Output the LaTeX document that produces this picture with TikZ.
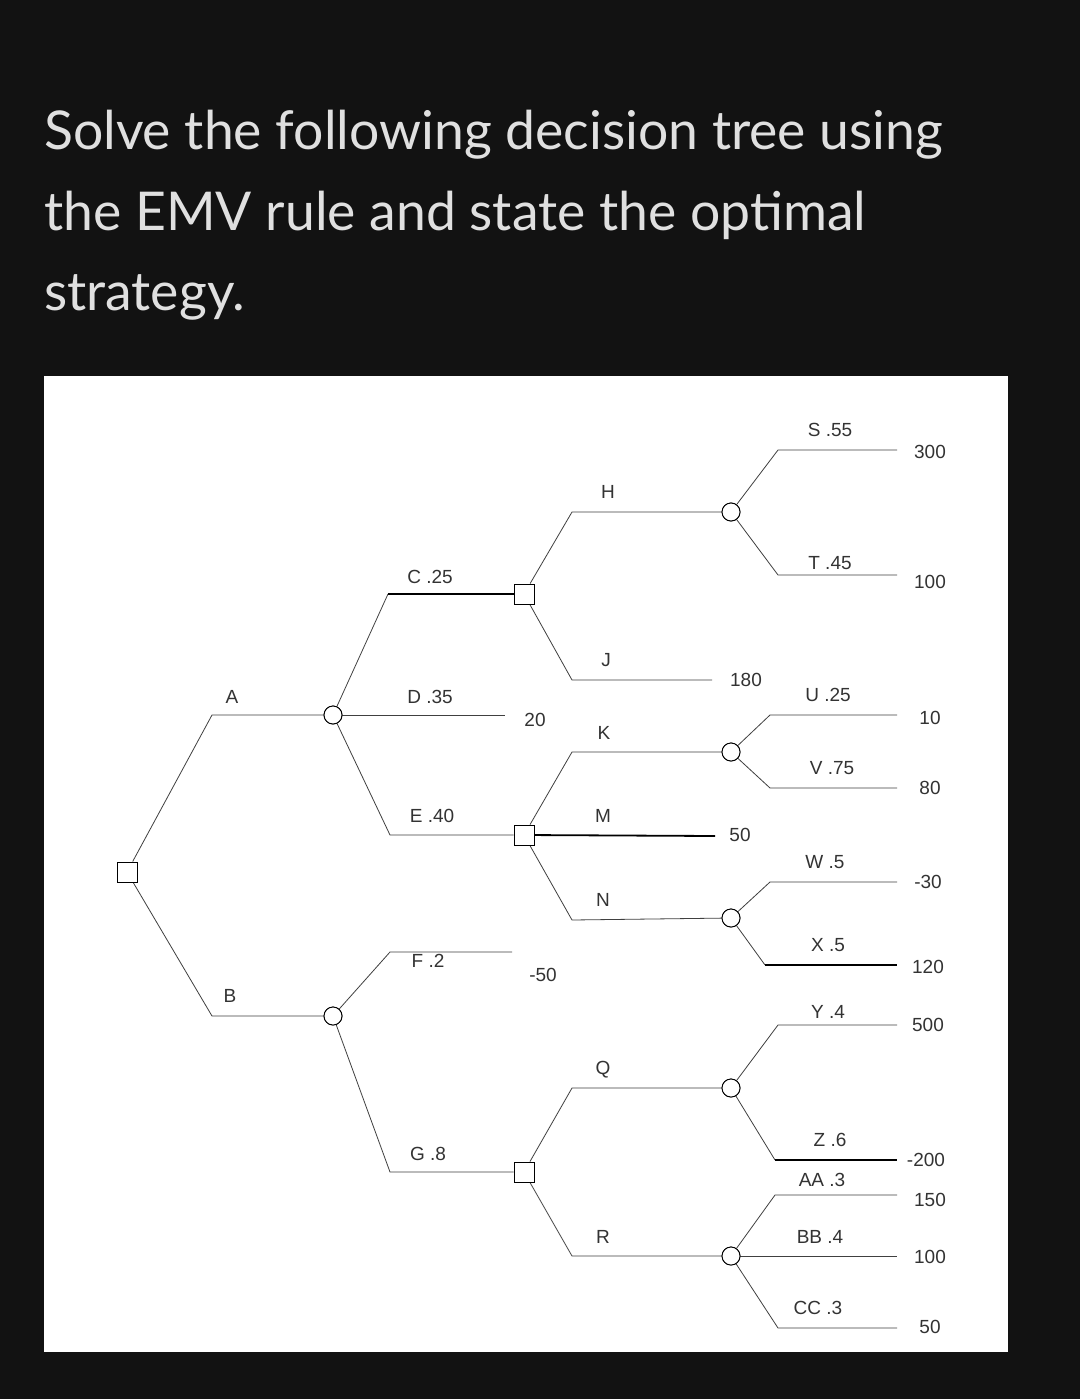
\documentclass[tikz,border=0pt]{standalone}
\usepackage{fontspec}
\setmainfont{Lato}
\newfontfamily\treefont{Liberation Sans}
\begin{document}
\begin{tikzpicture}[x=1pt,y=-1pt,
  dec/.style={draw,fill=white,minimum size=20pt,inner sep=0pt,line width=0.9pt},
  chn/.style={draw,fill=white,circle,minimum size=18pt,inner sep=0pt,line width=0.9pt},
  lbl/.style={font=\treefont\fontsize{19}{20}\selectfont,text=black!80},
  ttl/.style={anchor=base west,text=black!12,font=\fontsize{53.5}{58}\selectfont,inner sep=0pt},
  br/.style={line width=0.8pt,black!75},
  thk/.style={line width=1.8pt,black}]
\useasboundingbox (0,0) rectangle (1080,1399);
\fill[black!93] (0,0) rectangle (1080,1399);
\fill[white] (44,376) rectangle (1008,1352);
\node[ttl] (t1) at (44,150) {Solve the following decision tree using};
\node[ttl] (t2) at (44,230) {the EMV rule and state the optimal};
\node[ttl] (t3) at (44,310) {strategy.};
% nodes
\node[dec] (root) at (127,872) {};
\node[chn] (cA) at (333,715) {};
\node[chn] (cB) at (333,1016) {};
\node[dec] (dC) at (524,594) {};
\node[dec] (dE) at (524,835) {};
\node[dec] (dG) at (524,1172) {};
\node[chn] (cH) at (731,512) {};
\node[chn] (cK) at (731,752) {};
\node[chn] (cN) at (731,918) {};
\node[chn] (cQ) at (731,1088) {};
\node[chn] (cR) at (731,1256) {};
% coordinates
\foreach \n/\x/\y in {a1/212/715,b1/212/1016,c1/388/594,d1/505/715,e1/390/835,
  h1/572/512,j1/572/680,j2/712/680,k1/572/752,m1/715/836,n1/572/920,
  s1/778/450,s2/897/450,t1/778/575,t2/897/575,u1/770/715,u2/897/715,v1/770/788,v2/897/788,
  w1/770/882,w2/897/882,x1/765/965,x2/897/965,f1/390/952,f2/512/952,g1/390/1172,
  q1/572/1088,r1/572/1256,y1/778/1025,y2/897/1025,z1/775/1160,z2/897/1160,
  aa1/775/1195,aa2/897/1195,bb2/897/1256,cc1/778/1328,cc2/897/1328}
  {\coordinate (\n) at (\x,\y);}
\draw[br] (root) -- (a1) -- (cA);
\draw[br] (root) -- (b1) -- (cB);
\draw[br] (cA) -- (c1);
\draw[thk] (c1) -- (dC);
\draw[br] (cA) -- (d1);
\draw[br] (cA) -- (e1) -- (dE);
\draw[br] (dC) -- (h1) -- (cH);
\draw[br] (dC) -- (j1) -- (j2);
\draw[br] (dE) -- (k1) -- (cK);
\draw[thk] (dE) -- (m1);
\draw[br] (dE) -- (n1) -- (cN);
\draw[br] (cH) -- (s1) -- (s2);
\draw[br] (cH) -- (t1) -- (t2);
\draw[br] (cK) -- (u1) -- (u2);
\draw[br] (cK) -- (v1) -- (v2);
\draw[br] (cN) -- (w1) -- (w2);
\draw[br] (cN) -- (x1);
\draw[thk] (x1) -- (x2);
\draw[br] (cB) -- (f1) -- (f2);
\draw[br] (cB) -- (g1) -- (dG);
\draw[br] (dG) -- (q1) -- (cQ);
\draw[br] (dG) -- (r1) -- (cR);
\draw[br] (cQ) -- (y1) -- (y2);
\draw[br] (cQ) -- (z1);
\draw[thk] (z1) -- (z2);
\draw[br] (cR) -- (aa1) -- (aa2);
\draw[br] (cR) -- (bb2);
\draw[br] (cR) -- (cc1) -- (cc2);
% redraw nodes on top
\foreach \n in {root,dC,dE,dG} {\node[dec] at (\n) {};}
\foreach \n in {cA,cB,cH,cK,cN,cQ,cR} {\node[chn] at (\n) {};}
% labels
\node[lbl] (lA) at (232,697) {A};
\node[lbl] (lB) at (230,996) {B};
\node[lbl] (lC) at (430,577) {C .25};
\node[lbl] (lD) at (430,697) {D .35};
\node[lbl] (lE) at (432,816) {E .40};
\node[lbl] (lF) at (428,961) {F .2};
\node[lbl] (lG) at (428,1154) {G .8};
\node[lbl] (lH) at (608,492) {H};
\node[lbl] (lJ) at (606,660) {J};
\node[lbl] (lK) at (604,733) {K};
\node[lbl] (lM) at (603,816) {M};
\node[lbl] (lN) at (603,900) {N};
\node[lbl] (lQ) at (603,1070) {Q};
\node[lbl] (lR) at (603,1237) {R};
\node[lbl] (v20) at (535,720) {20};
\node[lbl] (v180) at (746,680) {180};
\node[lbl] (v50a) at (740,835) {50};
\node[lbl] (vm50) at (543,975) {-50};
\node[lbl] (lS) at (830,430) {S .55};
\node[lbl] (lT) at (830,563) {T .45};
\node[lbl] (lU) at (828,695) {U .25};
\node[lbl] (lV) at (832,768) {V .75};
\node[lbl] (lW) at (825,862) {W .5};
\node[lbl] (lX) at (828,945) {X .5};
\node[lbl] (lY) at (828,1012) {Y .4};
\node[lbl] (lZ) at (830,1140) {Z .6};
\node[lbl] (lAA) at (822,1180) {AA .3};
\node[lbl] (lBB) at (820,1237) {BB .4};
\node[lbl] (lCC) at (818,1308) {CC .3};
\node[lbl] (v300) at (930,452) {300};
\node[lbl] (v100a) at (930,582) {100};
\node[lbl] (v10) at (930,718) {10};
\node[lbl] (v80) at (930,788) {80};
\node[lbl] (vm30) at (928,882) {-30};
\node[lbl] (v120) at (928,967) {120};
\node[lbl] (v500) at (928,1025) {500};
\node[lbl] (vm200) at (926,1160) {-200};
\node[lbl] (v150) at (930,1200) {150};
\node[lbl] (v100b) at (930,1257) {100};
\node[lbl] (v50b) at (930,1327) {50};
\end{tikzpicture}
\end{document}
